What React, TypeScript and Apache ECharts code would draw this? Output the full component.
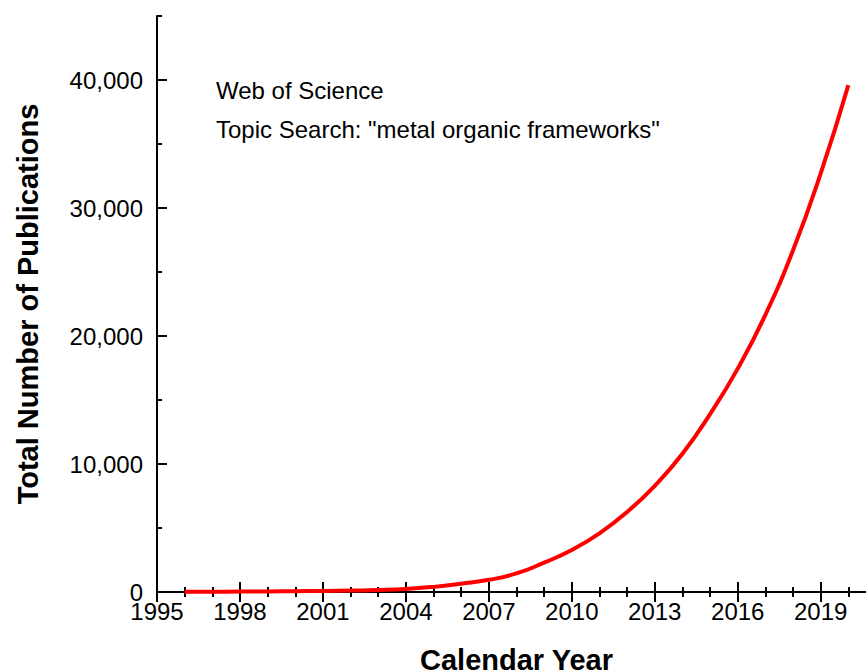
import React, { useEffect, useRef } from "react";
import * as echarts from "echarts";

const years = [1996, 1997, 1998, 1999, 2000, 2001, 2002, 2003, 2004, 2005, 2006, 2007, 2008, 2009, 2010, 2011, 2012, 2013, 2014, 2015, 2016, 2017, 2018, 2019, 2020];
const publications = [10, 20, 30, 40, 60, 80, 110, 150, 230, 400, 650, 950, 1450, 2300, 3280, 4580, 6250, 8300, 10800, 13900, 17450, 21650, 26700, 32700, 39600];
const annotationLines = ["Web of Science", 'Topic Search: "metal organic frameworks"'];
const xTitle = "Calendar Year";
const yTitle = "Total Number of Publications";

const FONT = "'Liberation Sans', Arial, sans-serif";

export default function App() {
  const ref = useRef<HTMLDivElement>(null);
  useEffect(() => {
    if (!ref.current) return;
    document.body.style.overflow = "hidden";
    const chart = echarts.init(ref.current, null, { renderer: "svg" });
    const line = { lineStyle: { color: "#000", width: 2 } };
    const xBase = { type: "value", min: 1995, max: 2021, gridIndex: 0 };
    const yBase = { type: "value", min: 0, max: 45000, gridIndex: 0 };
    const noLabel = { show: false };
    const tickStyle = { color: "#000", width: 2 };
    chart.setOption({
      animation: false,
      backgroundColor: "#fff",
      textStyle: { fontFamily: FONT },
      grid: {
        left: 157,
        top: 16,
        width: 719,
        height: 576,
        containLabel: false,
        outerBoundsMode: "none",
      },
      xAxis: [
        {
          ...xBase,
          position: "bottom",
          interval: 3,
          axisLine: { show: true, ...line },
          axisTick: { show: true, inside: true, length: 10, lineStyle: tickStyle },
          axisLabel: {
            show: true,
            color: "#000",
            fontSize: 24,
            margin: 7,
            fontFamily: FONT,
            showMaxLabel: false,
            formatter: (v: number) => String(v),
          },
          splitLine: { show: false },
          name: xTitle,
          nameLocation: "middle",
          nameGap: 53,
          nameTextStyle: { fontSize: 29, fontWeight: "bold", color: "#000", fontFamily: FONT },
        },
        {
          ...xBase,
          position: "bottom",
          interval: 1,
          axisLine: { show: false },
          axisTick: { show: true, inside: true, length: 5, lineStyle: tickStyle },
          axisLabel: noLabel,
          splitLine: { show: false },
        },
        {
          ...xBase,
          position: "top",
          interval: 3,
          axisLine: { show: true, ...line },
          axisTick: { show: true, inside: true, length: 10, lineStyle: tickStyle },
          axisLabel: noLabel,
          splitLine: { show: false },
        },
        {
          ...xBase,
          position: "top",
          interval: 1,
          axisLine: { show: false },
          axisTick: { show: true, inside: true, length: 5, lineStyle: tickStyle },
          axisLabel: noLabel,
          splitLine: { show: false },
        },
      ],
      yAxis: [
        {
          ...yBase,
          position: "left",
          interval: 10000,
          axisLine: { show: true, ...line },
          axisTick: { show: true, inside: true, length: 10, lineStyle: tickStyle },
          axisLabel: {
            show: true,
            color: "#000",
            fontSize: 24,
            margin: 14,
            fontFamily: FONT,
            showMaxLabel: false,
            formatter: (v: number) => v.toLocaleString("en-US"),
          },
          splitLine: { show: false },
          name: yTitle,
          nameLocation: "middle",
          nameGap: 115,
          nameTextStyle: { fontSize: 29, fontWeight: "bold", color: "#000", fontFamily: FONT },
        },
        {
          ...yBase,
          position: "left",
          interval: 5000,
          axisLine: { show: false },
          axisTick: { show: true, inside: true, length: 5, lineStyle: tickStyle },
          axisLabel: noLabel,
          splitLine: { show: false },
        },
        {
          ...yBase,
          position: "right",
          interval: 10000,
          axisLine: { show: true, ...line },
          axisTick: { show: true, inside: true, length: 10, lineStyle: tickStyle },
          axisLabel: noLabel,
          splitLine: { show: false },
        },
        {
          ...yBase,
          position: "right",
          interval: 5000,
          axisLine: { show: false },
          axisTick: { show: true, inside: true, length: 5, lineStyle: tickStyle },
          axisLabel: noLabel,
          splitLine: { show: false },
        },
      ],
      graphic: annotationLines.map((t, i) => ({
        type: "text",
        left: 216,
        top: 78 + i * 39,
        style: { text: t, fontSize: 24, fill: "#000", fontFamily: FONT },
        z: 10,
      })),
      series: [
        {
          type: "line",
          xAxisIndex: 0,
          yAxisIndex: 0,
          data: years.map((y, i) => [y, publications[i]]),
          smooth: 0.5,
          showSymbol: false,
          symbol: "none",
          lineStyle: { color: "#ff0000", width: 4 },
          z: 5,
        },
      ],
    });
    return () => chart.dispose();
  }, []);
  return (
    <div
      style={{
        position: "fixed",
        left: 0,
        top: 0,
        width: 866,
        height: 672,
        overflow: "hidden",
        background: "#fff",
      }}
    >
      <div ref={ref} style={{ width: 866, height: 672 }} />
    </div>
  );
}
